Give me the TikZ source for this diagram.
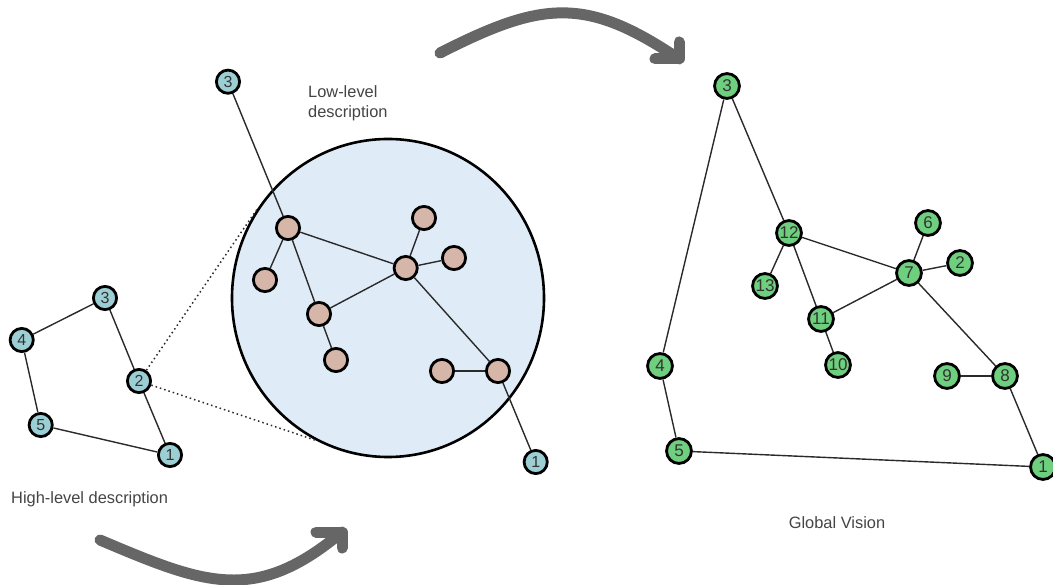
\documentclass[tikz,border=0pt]{standalone}
\usepackage{fontspec}
\setmainfont{Liberation Sans}
\usetikzlibrary{shapes.geometric}
\definecolor{tealc}{HTML}{9CCFD4}
\definecolor{brownc}{HTML}{D6B6A8}
\definecolor{greenc}{HTML}{6ECF7E}
\definecolor{bgblue}{HTML}{DFECF7}
\definecolor{digitc}{HTML}{333333}
\definecolor{labelc}{HTML}{444444}
\definecolor{edgec}{HTML}{2A2A2A}
\definecolor{arrowc}{HTML}{666666}
\tikzset{
  basenode/.style={circle, draw=black, line width=2.8pt, inner sep=0pt, text=digitc},
  hnode/.style={basenode, fill=tealc, minimum size=23.2pt, font=\fontsize{16}{16}\selectfont},
  lnode/.style={basenode, fill=brownc, minimum size=23.2pt},
  gnode/.style={basenode, fill=greenc, minimum size=24.9pt, font=\fontsize{17}{17}\selectfont},
  link/.style={line width=1.4pt, draw=edgec},
  zoomline/.style={line width=1.5pt, draw=edgec, dash pattern=on 1.5pt off 3pt},
  bigarrow/.style={line width=11pt, draw=arrowc, line cap=round, line join=round},
  caption/.style={text=labelc, font=\fontsize{16.4}{20}\selectfont, inner sep=0pt},
}
\begin{document}
\begin{tikzpicture}[x=1pt,y=-1pt]
\useasboundingbox (0,0) rectangle (1053,585);

% ---- big circle (low-level) ----
\node[ellipse, draw=black, line width=2.6pt, fill=bgblue, minimum width=312pt, minimum height=318pt, inner sep=0pt] (circ) at (388,298) {};

% ---- left graph (high-level) ----
\node[hnode] (h3) at (105,298) {3};
\node[hnode] (h4) at (21.7,340) {4};
\node[hnode] (h2) at (139,381) {2};
\node[hnode] (h5) at (40.7,425) {5};
\node[hnode] (h1) at (170,455) {1};
\draw[link] (h3) -- (h4);
\draw[link] (h4) -- (h5);
\draw[link] (h5) -- (h1);
\draw[link] (h1) -- (h2);
\draw[link] (h2) -- (h3);

% zoom lines
\draw[zoomline] (h2) -- (circ.146.7);
\draw[zoomline] (h2) -- (circ.243.4);

% ---- middle graph ----
\node[hnode] (m3) at (228,81.7) {3};
\node[hnode] (m1) at (535.7,462) {1};
\node[lnode] (a) at (288,228) {};
\node[lnode] (b) at (265,280) {};
\node[lnode] (c) at (319,314) {};
\node[lnode] (d) at (336,360) {};
\node[lnode] (e) at (405.7,268) {};
\node[lnode] (f) at (424,218) {};
\node[lnode] (g) at (454,258) {};
\node[lnode] (hh) at (442,371) {};
\node[lnode] (ii) at (498,371) {};
\draw[link] (m3) -- (a);
\draw[link] (a) -- (b);
\draw[link] (a) -- (c);
\draw[link] (a) -- (e);
\draw[link] (c) -- (e);
\draw[link] (c) -- (d);
\draw[link] (e) -- (f);
\draw[link] (e) -- (g);
\draw[link] (e) -- (ii);
\draw[link] (hh) -- (ii);
\draw[link] (ii) -- (m1);

\node[caption, anchor=west, align=left] (lowlab) at (308,103) {Low-level\\description};

% ---- right graph (global) ----
\node[gnode] (g3) at (727,86) {3};
\node[gnode] (g12) at (789,233) {12};
\node[gnode] (g6) at (928,223) {6};
\node[gnode] (g2) at (960,263) {2};
\node[gnode] (g7) at (909,273) {7};
\node[gnode] (g13) at (765,286) {13};
\node[gnode] (g11) at (821,319) {11};
\node[gnode] (g10) at (838,365) {10};
\node[gnode] (g4) at (660,366) {4};
\node[gnode] (g9) at (947,376) {9};
\node[gnode] (g8) at (1005,376) {8};
\node[gnode] (g5) at (679,451) {5};
\node[gnode] (g1) at (1043,467) {1};
\draw[link] (g3) -- (g4);
\draw[link] (g3) -- (g12);
\draw[link] (g12) -- (g13);
\draw[link] (g12) -- (g11);
\draw[link] (g12) -- (g7);
\draw[link] (g7) -- (g6);
\draw[link] (g7) -- (g2);
\draw[link] (g7) -- (g11);
\draw[link] (g11) -- (g10);
\draw[link] (g7) -- (g8);
\draw[link] (g8) -- (g9);
\draw[link] (g8) -- (g1);
\draw[link] (g4) -- (g5);
\draw[link] (g5) -- (g1);

% ---- captions ----
\node[caption, anchor=west] (highlab) at (11,499) {High-level description};
\node[caption] (globlab) at (837,523) {Global Vision};

% ---- big arrows ----
\coordinate (ta0) at (440,53);
\coordinate (ta1) at (679,59);
\coordinate (ta2) at (679,42);
\coordinate (ta3) at (655,59);
\draw[bigarrow] (ta0) .. controls (542,1) and (586,-4) .. (ta1);
\draw[bigarrow] (ta2) -- (ta1) -- (ta3);

\coordinate (ba0) at (100,540);
\coordinate (ba1) at (342,532);
\coordinate (ba2) at (316,532);
\coordinate (ba3) at (342,548);
\draw[bigarrow] (ba0) .. controls (204,584) and (255,605) .. (ba1);
\draw[bigarrow] (ba2) -- (ba1) -- (ba3);
\end{tikzpicture}
\end{document}
